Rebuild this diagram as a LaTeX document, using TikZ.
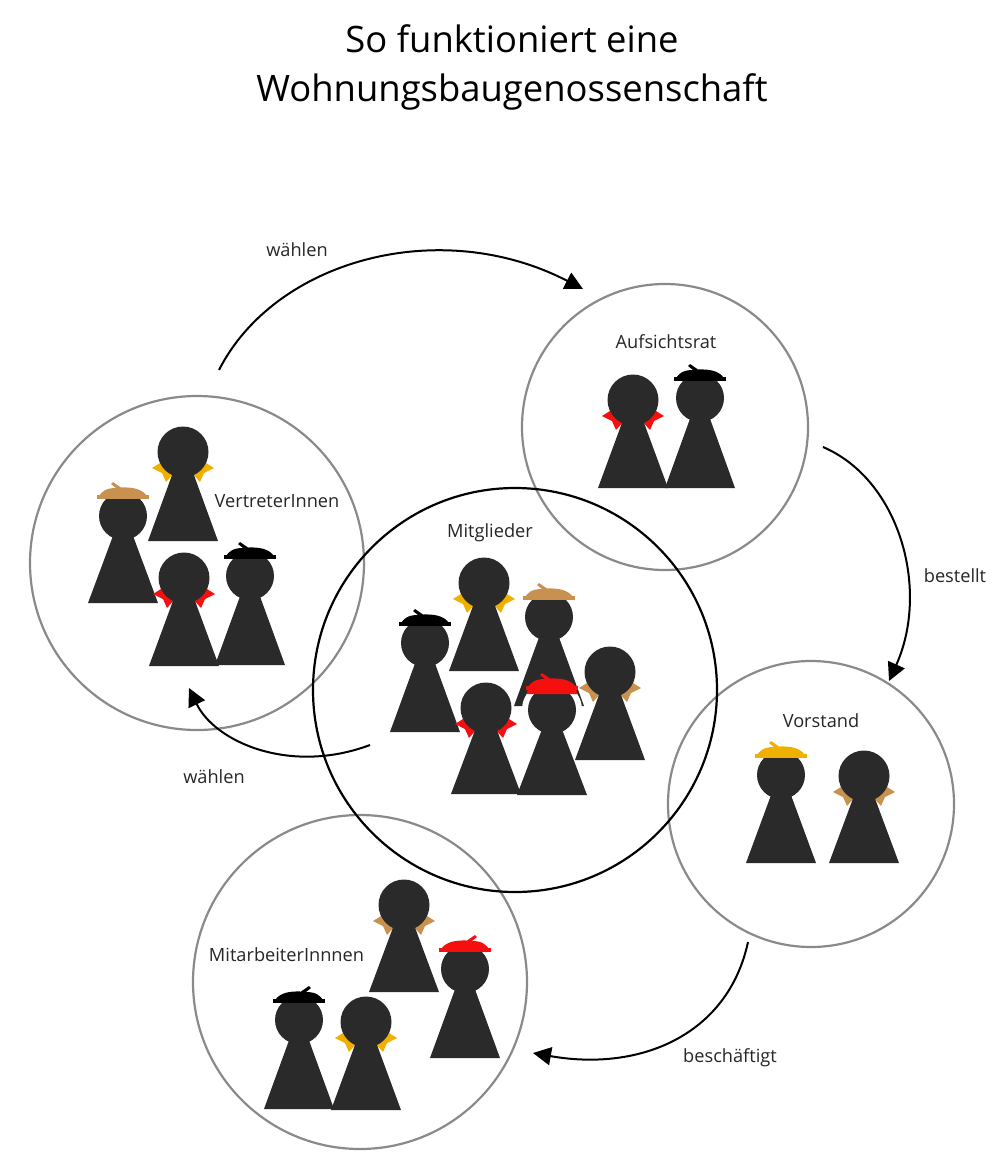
\documentclass[tikz,border=0pt]{standalone}
\usepackage{fontspec}
\setmainfont{Open Sans}
\usetikzlibrary{arrows.meta}
\definecolor{fig}{HTML}{2A2A2A}
\definecolor{cbrown}{HTML}{C8914F}
\definecolor{cyellow}{HTML}{F0B000}
\definecolor{cred}{HTML}{F50F0F}
\definecolor{cgray}{HTML}{8A8A8A}
\tikzset{
  ring/.style={circle,draw=cgray,line width=1.1pt,minimum size=#1*0.5pt,inner sep=0pt},
  label/.style={font=\fontsize{9.1pt}{11pt}\selectfont,text=black!85,inner sep=0pt},
  headline/.style={font=\fontsize{18.2pt}{22pt}\selectfont,text=black,inner sep=0pt,anchor=base},
  flow/.style={draw=black,line width=1pt,-{Triangle[length=9pt,width=9pt]}},
}
% #1 x, #2 head y, #3 base y, #4 head radius
\newcommand{\figbody}[4]{%
  \fill[fig] (#1-35,#3) -- (#1,#2-7) -- (#1+35,#3) -- cycle;
  \fill[fig] (#1,#2) circle[radius=#4];}
\newcommand{\scarffig}[4]{%
  \fill[#4] (#1-31,#2+16) -- (#1-23,#2+11) -- (#1-8,#2+20) -- (#1-17,#2+30) -- (#1-21,#2+21) -- cycle;
  \fill[#4] (#1+31,#2+16) -- (#1+23,#2+11) -- (#1+8,#2+20) -- (#1+17,#2+30) -- (#1+21,#2+21) -- cycle;
  \figbody{#1}{#2}{#3}{25.5}}
% #1 x, #2 y of the head it sits on, #3 colour, #4 side of the tick (1 left, -1 right)
\newcommand{\hatshape}[4]{%
  \begin{scope}[shift={(#1,#2)},xscale=#4]
  \fill[#3] (-26,-21) rectangle (26,-17);
  \fill[#3] (-24,-20) .. controls (-21,-24) and (-18,-28) .. (-7,-28)
    -- (-12,-32) -- (-10,-34) -- (-2,-28.5)
    .. controls (10,-29) and (19,-27) .. (24,-20) -- cycle;
  \end{scope}}
\newcommand{\hatfig}[5]{%
  \figbody{#1}{#2}{#3}{24}
  \hatshape{#1}{#2}{#4}{#5}}
\begin{document}
\begin{tikzpicture}[x=0.5pt,y=-0.5pt]
\useasboundingbox (0,0) rectangle (999,1168);
\node[headline] (t1) at (512,52) {So funktioniert eine};
\node[headline] (t2) at (512,101) {Wohnungsbaugenossenschaft};

\node[ring=286] (auf) at (665,427) {};
\node[ring=334] (ver) at (197,563) {};
\node[ring=286] (vor) at (811,804) {};
\node[ring=334] (mit) at (360,982) {};
\node[ring=404,draw=black] (mgl) at (515,690) {};

\scarffig{633}{400}{488}{cred}
\hatfig{700}{398}{488}{black}{1}

\scarffig{183}{452}{541}{cyellow}
\hatfig{123}{516}{603}{cbrown}{1}
\scarffig{184}{578}{666}{cred}
\hatfig{250}{576}{665}{black}{1}

\scarffig{484}{583}{671}{cyellow}
\hatfig{549}{617}{706}{cbrown}{1}
\hatfig{425}{643}{732}{black}{1}
\scarffig{610}{672}{760}{cbrown}
\scarffig{486}{708}{794}{cred}
\fill[white] (552,710) circle[radius=30];
\figbody{552}{710}{795}{24}
\hatshape{552}{707}{cred}{1}
\fill[cred] (527,694) -- (528,686) .. controls (540,682) and (570,682) .. (576,688) -- (577,694) -- cycle;

\hatfig{781}{775}{863}{cyellow}{1}
\scarffig{864}{776}{863}{cbrown}

\scarffig{404}{905}{992}{cbrown}
\hatfig{465}{969}{1058}{cred}{-1}
\hatfig{299}{1020}{1109}{black}{-1}
\scarffig{366}{1022}{1110}{cyellow}

\node[label] (l1) at (297,250) {wählen};
\node[label] (l2) at (666,342) {Aufsichtsrat};
\node[label] (l3) at (277,501) {VertreterInnen};
\node[label] (l4) at (490,533) {Mitglieder};
\node[label] (l5) at (955,576) {bestellt};
\node[label] (l6) at (821,721) {Vorstand};
\node[label] (l7) at (214,777) {wählen};
\node[label] (l8) at (286.5,955) {MitarbeiterInnnen};
\node[label] (l9) at (730,1058) {beschäftigt};

\coordinate (a1) at (219,370);
\coordinate (a2) at (583,289);
\coordinate (b1) at (823,447);
\coordinate (b2) at (889,681);
\coordinate (c1) at (370,745);
\coordinate (c2) at (189,688);
\coordinate (d1) at (748,942);
\coordinate (d2) at (533,1053);
\draw[flow] (a1) .. controls (275,260) and (440,215) .. (a2);
\draw[flow] (b1) .. controls (900,480) and (930,590) .. (b2);
\draw[flow] (c1) .. controls (290,775) and (215,742) .. (c2);
\draw[flow] (d1) .. controls (728,1035) and (640,1072) .. (d2);
\end{tikzpicture}
\end{document}
